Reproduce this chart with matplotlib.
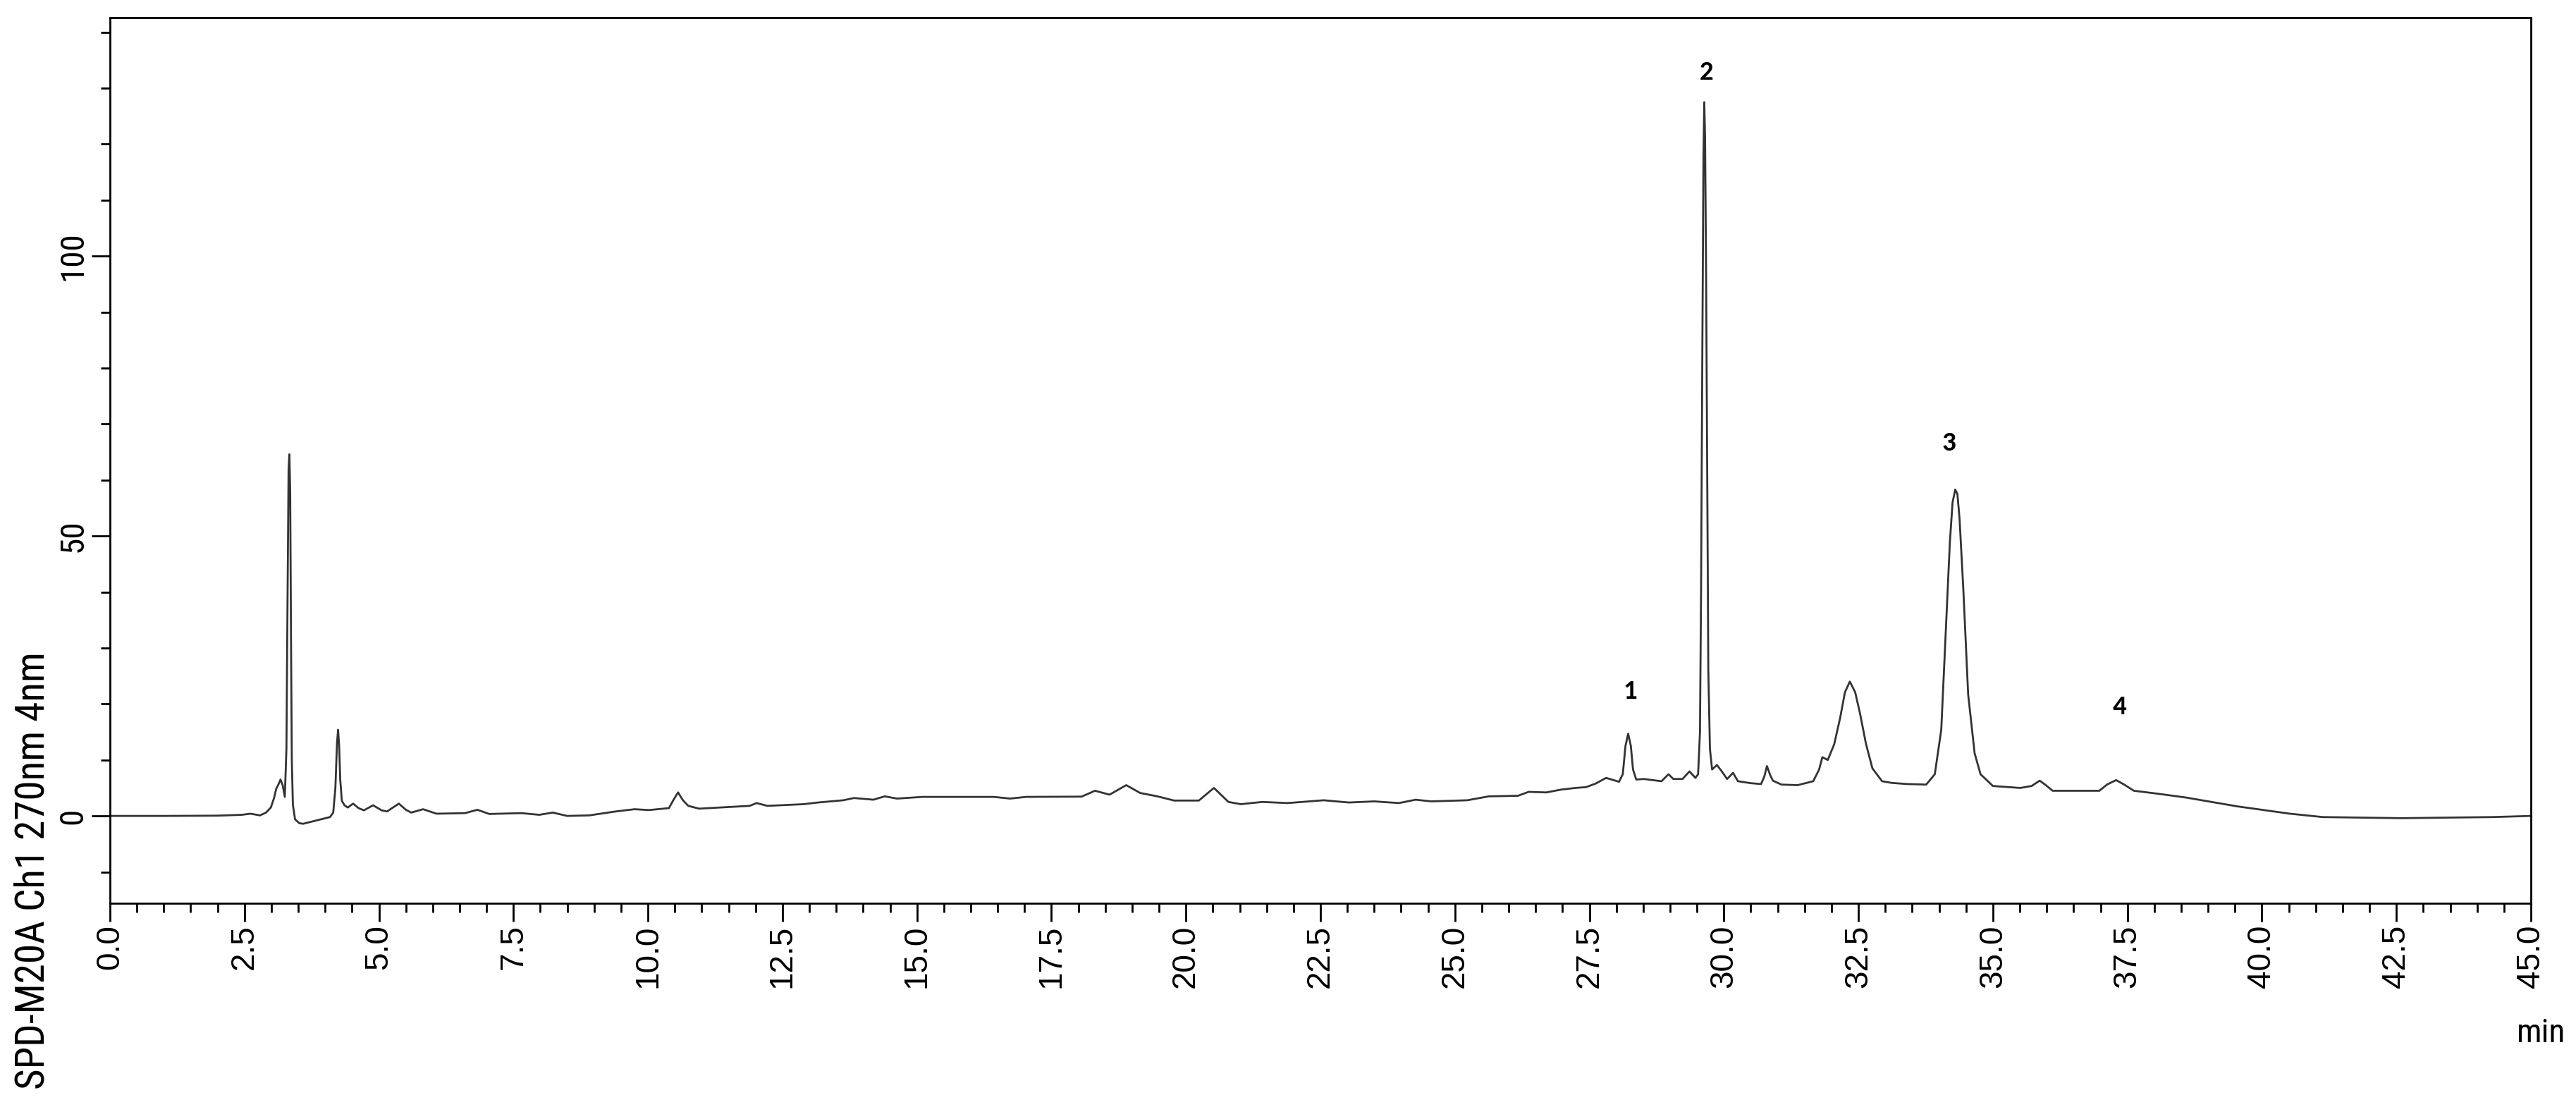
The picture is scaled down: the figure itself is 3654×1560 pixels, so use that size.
import matplotlib
matplotlib.use('Agg')
import matplotlib.pyplot as plt
from matplotlib import font_manager
from matplotlib.ticker import MultipleLocator, FormatStrFormatter

# Chromatogram trace (time in min, signal)
time_min = [
    0.0, 1.0, 2.0, 2.45, 2.61, 2.79, 2.90, 2.99, 3.05, 3.09, 3.13, 3.17, 3.21, 3.25,
    3.28, 3.30, 3.32, 3.335, 3.35, 3.365, 3.38, 3.40, 3.44, 3.52, 3.59, 3.80, 4.09,
    4.15, 4.19, 4.22, 4.24, 4.26, 4.28, 4.31, 4.36, 4.42, 4.52, 4.62, 4.72, 4.89,
    5.05, 5.15, 5.37, 5.50, 5.60, 5.82, 6.07, 6.60, 6.83, 7.05, 7.65, 7.98, 8.23,
    8.50, 8.91, 9.40, 9.75, 10.02, 10.39, 10.47, 10.56, 10.65, 10.75, 10.95, 11.50,
    11.89, 12.02, 12.22, 12.89, 13.16, 13.63, 13.83, 14.19, 14.40, 14.63, 15.10,
    16.43, 16.73, 17.03, 18.06, 18.31, 18.58, 18.89, 19.15, 19.47, 19.78, 20.24,
    20.52, 20.79, 21.02, 21.42, 21.89, 22.56, 23.03, 23.50, 23.96, 24.27, 24.56,
    25.23, 25.63, 26.17, 26.37, 26.70, 26.97, 27.24, 27.44, 27.62, 27.81, 28.05,
    28.12, 28.17, 28.22, 28.27, 28.31, 28.37, 28.51, 28.84, 28.97, 29.06, 29.23,
    29.36, 29.47, 29.52, 29.555, 29.575, 29.60, 29.62, 29.635, 29.65, 29.67, 29.69,
    29.71, 29.74, 29.78, 29.87, 29.95, 30.06, 30.17, 30.26, 30.50, 30.69, 30.75,
    30.80, 30.86, 30.91, 31.07, 31.37, 31.66, 31.77, 31.83, 31.93, 32.05, 32.16,
    32.25, 32.34, 32.44, 32.53, 32.64, 32.76, 32.94, 33.12, 33.40, 33.76, 33.92,
    34.04, 34.13, 34.20, 34.25, 34.30, 34.34, 34.38, 34.45, 34.54, 34.66, 34.77,
    35.00, 35.51, 35.72, 35.87, 35.97, 36.11, 36.98, 37.12, 37.29, 37.44, 37.62,
    38.04, 38.58, 39.55, 40.52, 41.13, 42.59, 44.29, 45.00,
]
signal = [
    0.0, 0.0, 0.05, 0.2, 0.4, 0.1, 0.6, 1.5, 3.2, 4.85, 5.6, 6.5, 5.5, 3.4,
    12.0, 38.0, 62.0, 64.6, 58.0, 32.0, 10.0, 2.0, -0.6, -1.3, -1.4, -0.9, -0.2,
    0.6, 5.0, 13.0, 15.4, 12.5, 6.5, 2.7, 1.9, 1.5, 2.2, 1.4, 1.0, 1.9,
    1.0, 0.8, 2.2, 1.1, 0.6, 1.2, 0.4, 0.5, 1.1, 0.35, 0.5, 0.2, 0.6,
    0.0, 0.1, 0.8, 1.2, 1.05, 1.4, 2.8, 4.2, 2.8, 1.8, 1.3, 1.6,
    1.8, 2.3, 1.8, 2.1, 2.4, 2.8, 3.2, 2.9, 3.5, 3.1, 3.4,
    3.4, 3.1, 3.4, 3.45, 4.5, 3.8, 5.5, 4.1, 3.5, 2.75, 2.75,
    5.0, 2.5, 2.1, 2.5, 2.3, 2.8, 2.4, 2.6, 2.3, 2.9, 2.6,
    2.8, 3.5, 3.6, 4.3, 4.2, 4.7, 5.0, 5.15, 5.8, 6.8, 6.1,
    7.45, 12.5, 14.7, 12.5, 8.3, 6.5, 6.6, 6.2, 7.45, 6.6, 6.6,
    7.95, 6.8, 7.45, 15.0, 40.0, 85.0, 118.0, 127.5, 121.0, 95.0, 60.0,
    26.0, 12.0, 8.3, 9.1, 8.1, 6.6, 7.7, 6.2, 5.85, 5.7, 7.0,
    8.9, 7.3, 6.3, 5.6, 5.5, 6.2, 8.3, 10.5, 10.0, 12.8, 17.5,
    22.1, 24.0, 22.1, 18.3, 12.9, 8.5, 6.2, 5.9, 5.7, 5.6, 7.45,
    15.4, 34.3, 48.9, 56.0, 58.3, 57.5, 53.1, 40.5, 21.7, 11.2, 7.45,
    5.35, 5.0, 5.35, 6.3, 5.6, 4.5, 4.5, 5.6, 6.4, 5.6, 4.5,
    4.0, 3.3, 1.7, 0.4, -0.2, -0.4, -0.2, 0.0,
]

# Peak numbers and where they sit
peak_names = ['1', '2', '3', '4']
peak_x = [28.26, 29.67, 34.18, 37.35]
peak_y = [22.2, 132.9, 66.6, 19.5]

x_ticks = [i * 2.5 for i in range(19)]
y_ticks = [0, 50, 100]


def pick_font(names):
    have = {f.name for f in font_manager.fontManager.ttflist}
    for n in names:
        if n in have:
            return n
    return 'DejaVu Sans'


narrow = pick_font(['Liberation Sans Narrow', 'Arial Narrow', 'Roboto Condensed'])
narrow_stretch = 'normal' if narrow != 'DejaVu Sans' else 'condensed'
regular = pick_font(['Liberation Sans', 'Arial'])
bold_font = pick_font(['Carlito', 'Lato', 'Open Sans'])

fig = plt.figure(figsize=(36.55, 15.6), dpi=100)
ax = fig.add_axes([0.04268, 0.17885, 0.93954, 0.80512])

ax.plot(time_min, signal, color='#333333', linewidth=2.0)

ax.set_xlim(0, 45)
ax.set_ylim(-15.6, 142.6)

# ticks
ax.xaxis.set_major_locator(MultipleLocator(2.5))
ax.xaxis.set_minor_locator(MultipleLocator(0.5))
ax.xaxis.set_major_formatter(FormatStrFormatter('%.1f'))
ax.set_yticks(y_ticks)
ax.yaxis.set_minor_locator(MultipleLocator(10))
ax.tick_params(which='major', length=19, width=2, direction='out', pad=3)
ax.tick_params(which='minor', length=9.5, width=2, direction='out')

for lab in ax.get_xticklabels():
    lab.set_rotation(90)
    lab.set_fontsize(33)
    lab.set_fontfamily(regular)
for lab in ax.get_yticklabels():
    lab.set_rotation(90)
    lab.set_va('center')
    lab.set_fontsize(34)
    lab.set_fontfamily(narrow)
    lab.set_fontstretch(narrow_stretch)

for s in ax.spines.values():
    s.set_linewidth(2)
    s.set_color('black')

# peak numbers
for name, px, py in zip(peak_names, peak_x, peak_y):
    ax.text(px, py, name, ha='center', va='center', fontsize=28,
            fontweight='bold', family=bold_font)

# axis titles in the detector style
fig.text(47 / 3655, 1 - 1235 / 1560, 'SPD-M20A Ch1 270nm 4nm', rotation=90,
         ha='center', va='center', fontsize=41, family=narrow,
         fontstretch=narrow_stretch)
fig.text(3605 / 3655, 1 - 1465 / 1560, 'min', ha='center', va='center',
         fontsize=34, family=narrow, fontstretch=narrow_stretch)

fig.savefig('out.png', dpi=100)
